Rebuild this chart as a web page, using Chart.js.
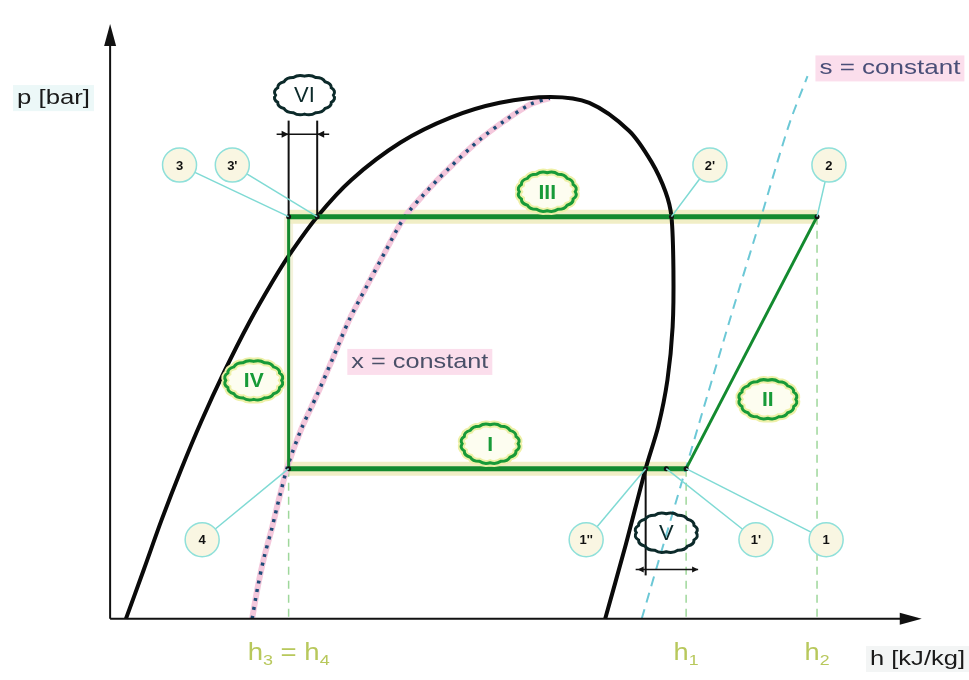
<!DOCTYPE html>
<html>
<head>
<meta charset="utf-8">
<script src="https://cdn.jsdelivr.net/npm/chart.js"></script>
<style>
  html, body { margin: 0; padding: 0; background: #fff; }
  #wrap { width: 969px; height: 680px; }
</style>
</head>
<body>
<div id="wrap"><canvas id="myChart" width="969" height="680"></canvas></div>
<script>
// saturation dome: liquid line -> critical point -> vapour line
var domeH = [2, 4.25, 6.5, 8.9, 11.5, 14.4, 17.55, 20.4, 22.5, 26.1, 30.4, 36.6, 42.9, 49.1, 55.5, 60.4, 65.4, 68.25, 70, 70.75, 71, 70.9, 70.25, 69.1, 67.5, 65, 62.4];
var domeP = [0, 8.3, 16.7, 25, 33.3, 41.7, 50, 56.7, 61.2, 67.8, 74, 80.3, 84.5, 87, 88, 87, 82.3, 77, 72, 67.8, 58.7, 49.2, 40.3, 32.5, 25.3, 12.5, 0];

// x = constant (dotted)
var xConstH = [17.9, 18.6, 19.4, 20.4, 21.4, 22.4, 24.1, 26.1, 28, 30.1, 32.4, 34.6, 37, 39.5, 42.9, 46.6, 49.75, 52.9, 55.4];
var xConstP = [0, 5.3, 10.3, 15.3, 20.8, 25.8, 32, 37.8, 43.7, 50.3, 56.2, 61.7, 67.5, 71.5, 76.2, 80.8, 84, 86.7, 87.8];

// s = constant (dashed)
var sConstH = [67, 71.1, 75.4, 79.1, 82, 84.1, 85.8, 87.9];
var sConstP = [0, 18.7, 38.2, 54.8, 67.5, 77, 84.2, 91.5];

// cycle state points
var stateNames = ['3', "3'", "2'", '2', '4', "1''", "1'", '1'];
var stateH = [22.5, 26.1, 70.75, 89.1, 22.5, 67.5, 70.1, 72.6];
var stateP = [67.8, 67.8, 67.8, 67.8, 25.3, 25.3, 25.3, 25.3];

// process labels
var processNames = ['I', 'II', 'III', 'IV', 'V', 'VI'];

function pts(hs, ps) {
    return hs.map(function (h, i) { return { x: h, y: ps[i] }; });
}
function st(name) {
    var i = stateNames.indexOf(name);
    return { x: stateH[i], y: stateP[i] };
}

var GREEN = '#138a2f';
var HALO = '#f1eec6';

var datasets = [
    // state markers
    { data: pts(stateH, stateP), showLine: false, pointRadius: 2.5, pointBackgroundColor: '#111', pointBorderWidth: 0, order: 1 },
    // condensation (top) and evaporation (bottom)
    { data: [st('3'), st('2')], borderColor: GREEN, borderWidth: 5, order: 3 },
    { data: [st('4'), st('1')], borderColor: GREEN, borderWidth: 5, order: 3 },
    // throttling and compression
    { data: [st('3'), st('4')], borderColor: GREEN, borderWidth: 3, order: 4 },
    { data: [st('1'), st('2')], borderColor: GREEN, borderWidth: 3, order: 4 },
    // dome
    { data: pts(domeH, domeP), borderColor: '#0a0a0a', borderWidth: 4, tension: 0.3, order: 5 },
    // x = constant
    { data: pts(xConstH, xConstP), borderColor: '#1d4c78', borderWidth: 3.5, borderDash: [3, 6], tension: 0.3, order: 6 },
    { data: pts(xConstH, xConstP), borderColor: '#f4c8dc', borderWidth: 6, tension: 0.3, order: 7 },
    // s = constant
    { data: pts(sConstH, sConstP), borderColor: '#6cc8d6', borderWidth: 2, borderDash: [10, 7], tension: 0.3, order: 8 },
    // halos of the isobars
    { data: [st('3'), st('2')], borderColor: HALO, borderWidth: 14, order: 9 },
    { data: [st('4'), st('1')], borderColor: HALO, borderWidth: 14, order: 9 },
    { data: [st('3'), st('4')], borderColor: '#f4f2dc', borderWidth: 9, order: 9 }
];
// h3=h4, h1, h2 guide lines
['4', '1', '2'].forEach(function (n) {
    var s = st(n);
    datasets.push({ data: [s, { x: s.x, y: 0 }], borderColor: '#9fd79b', borderWidth: 1.5, borderDash: [8, 6], order: 8 });
});
datasets.forEach(function (d) {
    if (d.pointRadius === undefined) d.pointRadius = 0;
    if (d.showLine === undefined) d.showLine = true;
    d.fill = false;
});

var diagramPlugin = {
    id: 'diagram',
    afterDatasetsDraw: function (chart) {
        var ctx = chart.ctx;
        var xs = chart.scales.x, ys = chart.scales.y;
        function X(h) { return xs.getPixelForValue(h); }
        function Y(p) { return ys.getPixelForValue(p); }

        function line(x1, y1, x2, y2, color, w) {
            ctx.beginPath(); ctx.moveTo(x1, y1); ctx.lineTo(x2, y2);
            ctx.strokeStyle = color; ctx.lineWidth = w; ctx.stroke();
        }
        function arrow(tx, ty, dx, dy, len, half, color) {
            // tip at (tx,ty), pointing along (dx,dy)
            var nx = -dy, ny = dx;
            ctx.beginPath();
            ctx.moveTo(tx, ty);
            ctx.lineTo(tx - dx * len + nx * half, ty - dy * len + ny * half);
            ctx.lineTo(tx - dx * len - nx * half, ty - dy * len - ny * half);
            ctx.closePath();
            ctx.fillStyle = color; ctx.fill();
        }
        function cloudPath(cx, cy, rx, ry) {
            var n = 16;
            ctx.beginPath();
            for (var i = 0; i <= n; i++) {
                var a = i / n * Math.PI * 2;
                var px = cx + rx * Math.cos(a), py = cy + ry * Math.sin(a);
                if (i === 0) { ctx.moveTo(px, py); continue; }
                var am = (i - 0.5) / n * Math.PI * 2;
                ctx.quadraticCurveTo(cx + rx * 1.12 * Math.cos(am), cy + ry * 1.12 * Math.sin(am), px, py);
            }
            ctx.closePath();
        }
        function cloud(name, h, p, rx, ry, color, halo, font, fill) {
            var cx = X(h), cy = Y(p);
            cloudPath(cx, cy, rx, ry);
            if (fill) { ctx.fillStyle = fill; ctx.fill(); }
            if (halo) { ctx.strokeStyle = halo; ctx.lineWidth = 7; ctx.stroke(); }
            ctx.strokeStyle = color; ctx.lineWidth = 3; ctx.stroke();
            ctx.fillStyle = color; ctx.font = font;
            ctx.textAlign = 'center'; ctx.textBaseline = 'middle';
            ctx.fillText(name, cx, cy + 1);
        }
        function callout(name, h, p) {
            var s = st(name);
            var cx = X(h), cy = Y(p), tx = X(s.x), ty = Y(s.y), r = 17;
            var d = Math.hypot(tx - cx, ty - cy);
            line(cx + (tx - cx) / d * r, cy + (ty - cy) / d * r, tx, ty, '#7fdad4', 1.5);
            ctx.beginPath(); ctx.arc(cx, cy, r, 0, Math.PI * 2);
            ctx.fillStyle = '#f9f6e2'; ctx.fill();
            ctx.strokeStyle = '#8fe0da'; ctx.lineWidth = 1.5; ctx.stroke();
            ctx.fillStyle = '#111'; ctx.font = 'bold 13px "Liberation Sans", Arial';
            ctx.textAlign = 'center'; ctx.textBaseline = 'middle';
            ctx.fillText(name, cx, cy + 1);
        }
        // text stretched to a given width
        function fitText(txt, x, y, font, width, color, bg) {
            ctx.font = font; ctx.textAlign = 'left'; ctx.textBaseline = 'middle';
            var w = ctx.measureText(txt).width;
            if (bg) { ctx.fillStyle = bg; ctx.fillRect(x - 4, y - 13, width + 8, 26); }
            ctx.save();
            ctx.translate(x, y);
            ctx.scale(width / w, 1);
            ctx.fillStyle = color; ctx.fillText(txt, 0, 0);
            ctx.restore();
        }
        function hLabel(parts, cx, y, width) {
            // parts: [[text, isSub], ...]
            var big = '23px "Liberation Sans", Arial', small = '15px "Liberation Sans", Arial';
            var w = 0;
            parts.forEach(function (pt) { ctx.font = pt[1] ? small : big; w += ctx.measureText(pt[0]).width; });
            var k = width / w;
            ctx.save();
            ctx.translate(cx - width / 2, y);
            ctx.scale(k, 1);
            ctx.textAlign = 'left'; ctx.textBaseline = 'middle'; ctx.fillStyle = '#b8c85c';
            var x = 0;
            parts.forEach(function (pt) {
                ctx.font = pt[1] ? small : big;
                ctx.fillText(pt[0], x, pt[1] ? 7 : 0);
                x += ctx.measureText(pt[0]).width;
            });
            ctx.restore();
        }

        ctx.save();

        // axes
        var x0 = X(0), y0 = Y(0);
        line(x0, y0, x0, Y(97), '#111', 2);
        line(x0, y0, X(100), y0, '#111', 2);
        arrow(x0, Y(100.3), 0, -1, 22, 6, '#111');
        arrow(X(102.3), y0, 1, 0, 22, 6, '#111');

        // dimension VI (subcooling)
        var a3 = X(st('3').x), a3p = X(st("3'").x), yh = Y(stateP[0]);
        line(a3, yh, a3, Y(84), '#111', 2);
        line(a3p, yh, a3p, Y(84), '#111', 2);
        line(a3 - 12, Y(81.7), a3p + 12, Y(81.7), '#111', 1.5);
        arrow(a3, Y(81.7), 1, 0, 7, 3.5, '#111');
        arrow(a3p, Y(81.7), -1, 0, 7, 3.5, '#111');

        // dimension V (superheat)
        var b1 = X(st("1''").x), b2 = X(st('1').x), yl = Y(stateP[4]);
        line(b1, yl, b1, Y(7.3), '#111', 2);
        line(b1 - 10, Y(8.3), b2 + 12, Y(8.3), '#111', 1.5);
        arrow(b1 - 8, Y(8.3), -1, 0, 6, 3, '#111');
        arrow(b2 + 12, Y(8.3), 1, 0, 6, 3, '#111');

        // callouts
        callout('3', 8.75, 76.5);
        callout("3'", 15.4, 76.5);
        callout("2'", 75.6, 76.5);
        callout('2', 90.6, 76.5);
        callout('4', 11.6, 13.3);
        callout("1''", 60, 13.3);
        callout("1'", 81.4, 13.3);
        callout('1', 90.25, 13.3);

        // process clouds
        var gFont = 'bold 21px "Liberation Sans", Arial';
        var kFont = '22px "Liberation Sans", Arial';
        cloud(processNames[2], 55.1, 72, 28, 19, '#179a38', '#eef0a8', gFont, '#fdfdf0');
        cloud(processNames[3], 18.1, 40.2, 28, 19, '#179a38', '#eef0a8', gFont, '#fdfdf0');
        cloud(processNames[0], 47.9, 29.5, 28, 19, '#179a38', '#eef0a8', gFont, '#fdfdf0');
        cloud(processNames[1], 82.9, 37, 28, 19, '#179a38', '#eef0a8', gFont, '#fdfdf0');
        cloud(processNames[4], 70.1, 14.5, 30, 19, '#0c2a2a', null, kFont, null);
        cloud(processNames[5], 24.5, 88.3, 29, 19, '#0c2a2a', null, kFont, '#fff');

        // texts
        var tf = '21px "Liberation Sans", Arial';
        fitText('p [bar]', 17, Y(87.8), tf, 73, '#1a1a1a', 'rgba(200,235,235,0.35)');
        fitText('h [kJ/kg]', 870, Y(-6.8), tf, 95, '#1a1a1a', 'rgba(220,225,225,0.35)');
        fitText('s = constant', X(89.4), Y(92.8), tf, 141, '#4a4f78', 'rgba(244,160,200,0.35)');
        fitText('x = constant', X(30.4), Y(43.3), tf, 137, '#4a5068', 'rgba(244,160,200,0.35)');

        hLabel([['h', 0], ['3', 1], [' = h', 0], ['4', 1]], X(st('4').x), Y(-5.9), 82);
        hLabel([['h', 0], ['1', 1]], X(st('1').x), Y(-5.9), 25);
        hLabel([['h', 0], ['2', 1]], X(st('2').x), Y(-5.9), 25);

        ctx.restore();
    }
};

var myChart = document.getElementById('myChart');
var ctx = myChart.getContext('2d');
var chart = new Chart(ctx, {
    type: 'scatter',
    data: { datasets: datasets },
    options: {
        responsive: false,
        animation: false,
        events: [],
        layout: { padding: 0 },
        plugins: {
            legend: { display: false },
            tooltip: { enabled: false }
        },
        scales: {
            x: { type: 'linear', display: false, min: -107 / 8, max: 862 / 8 },
            y: { type: 'linear', display: false, min: -58 / 6, max: 622 / 6 }
        }
    },
    plugins: [diagramPlugin]
});
</script>
</body>
</html>
